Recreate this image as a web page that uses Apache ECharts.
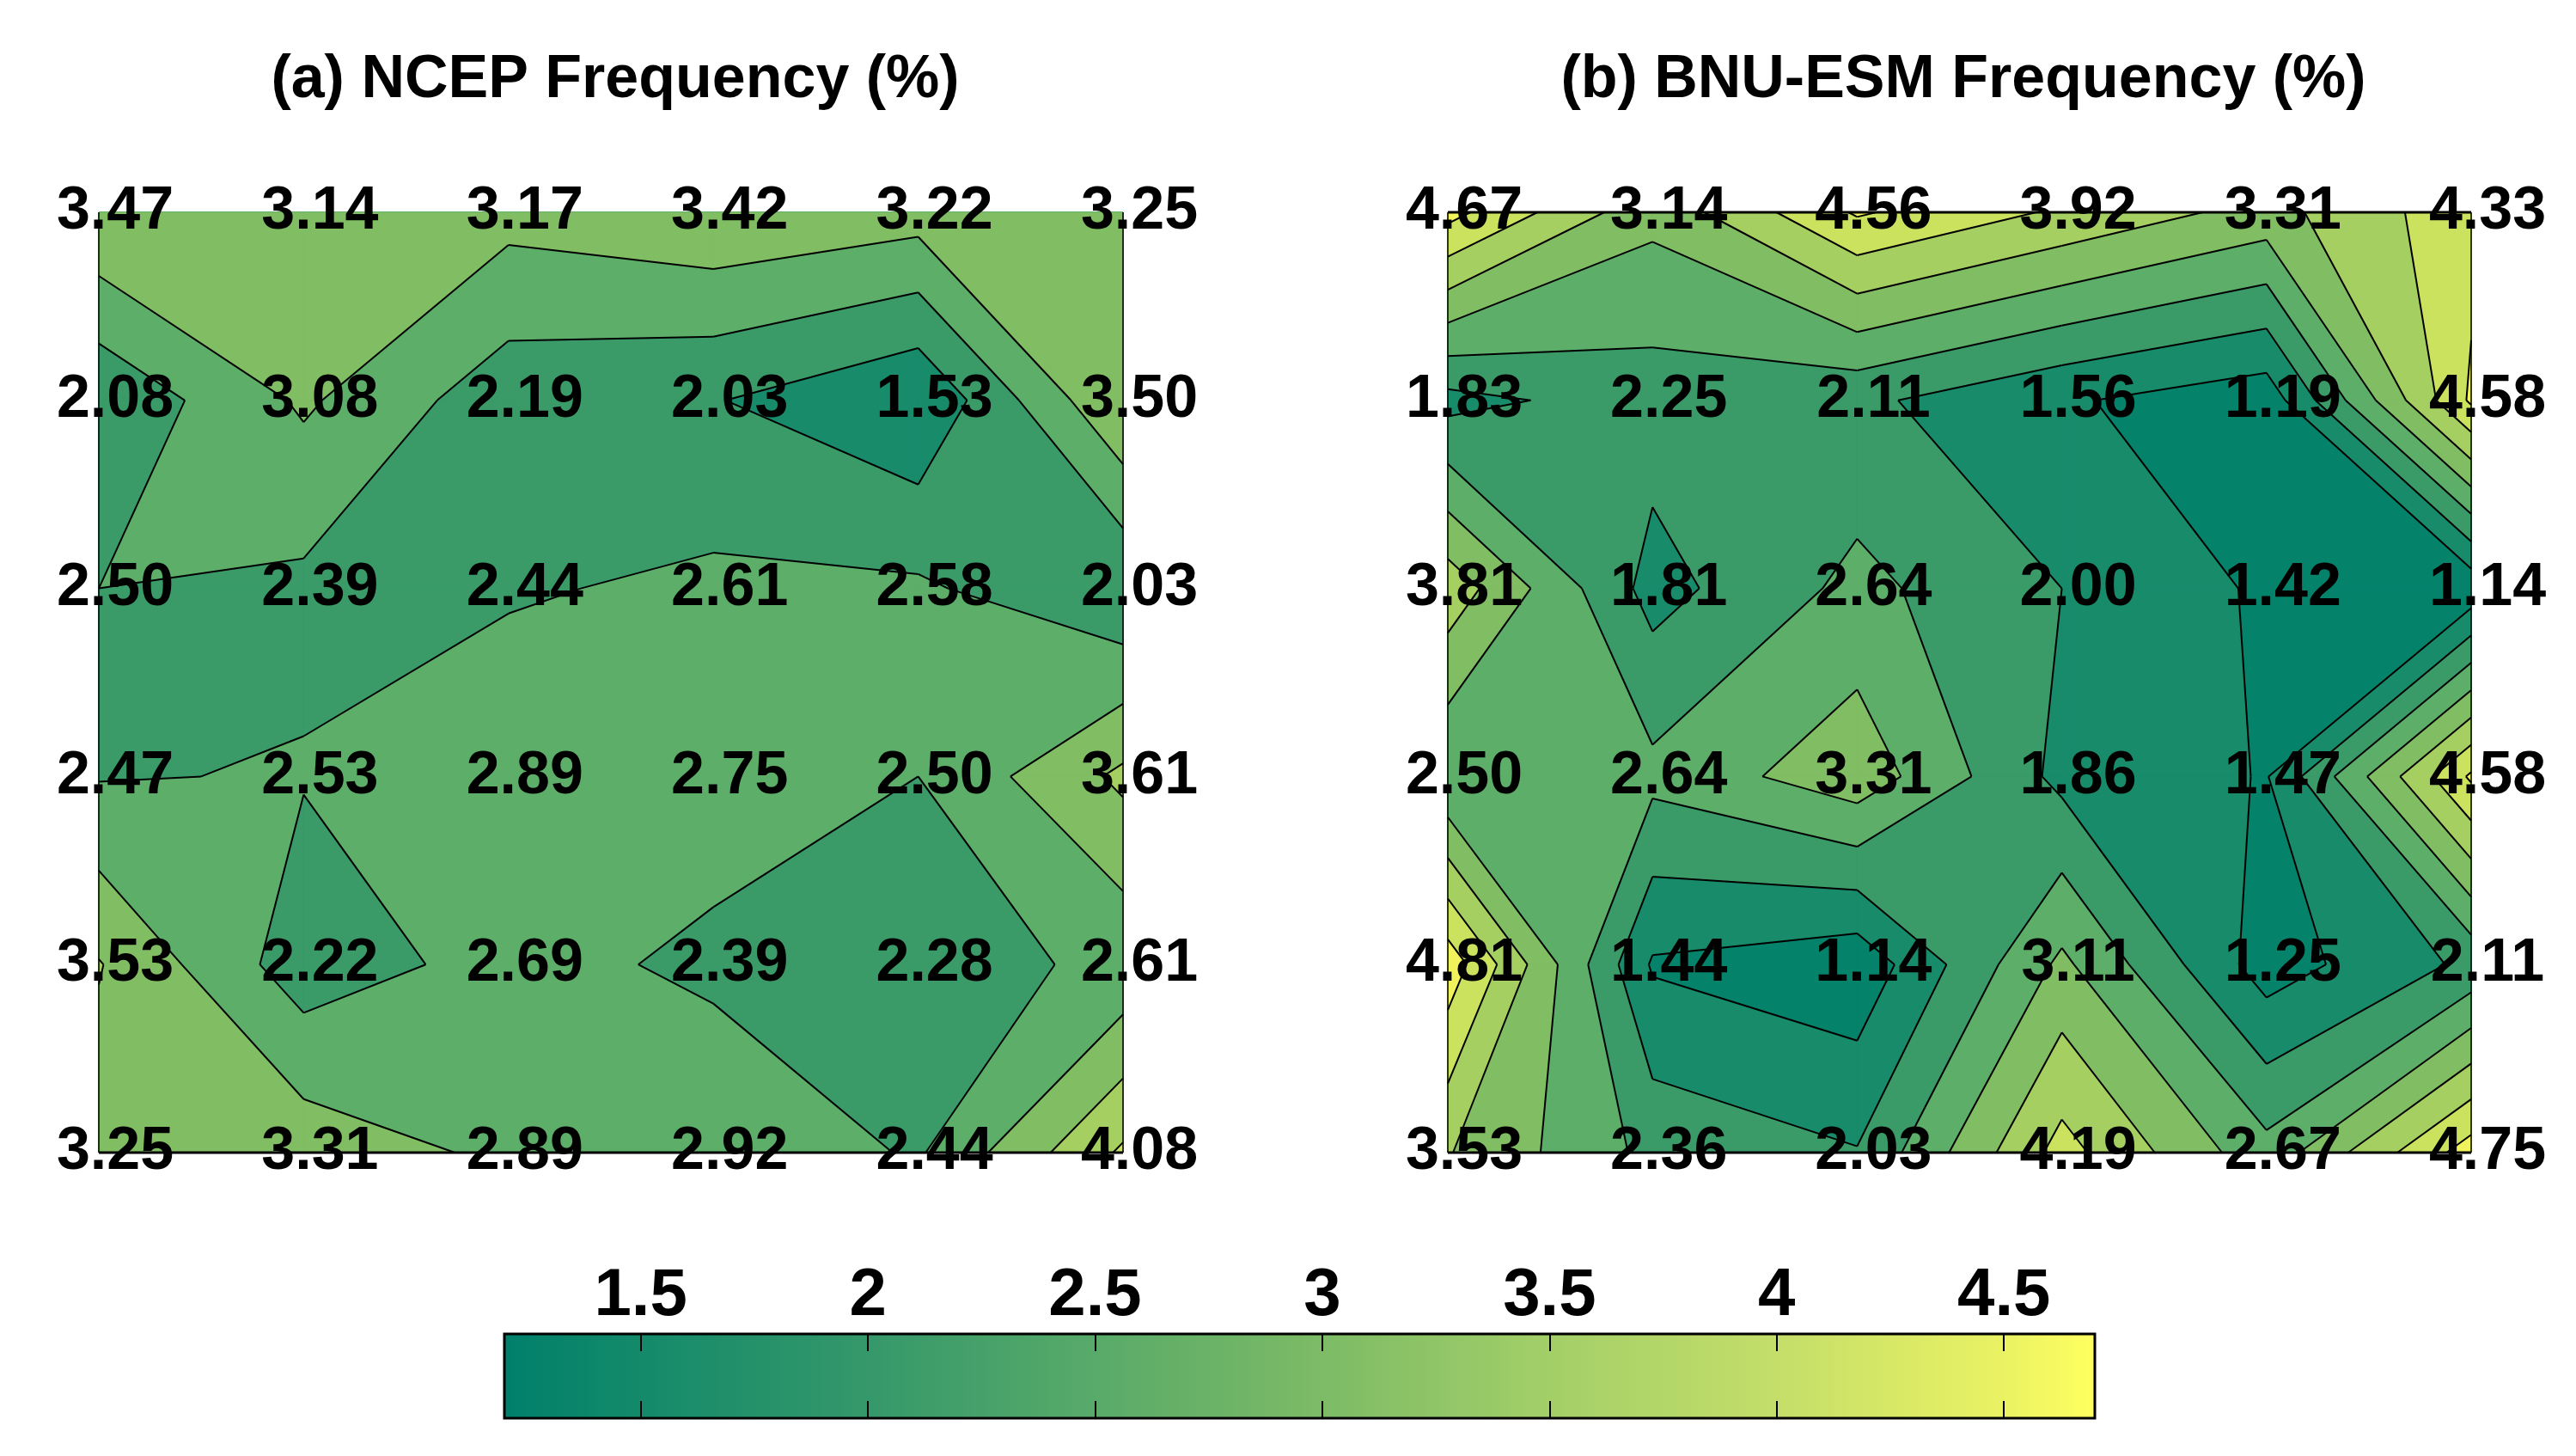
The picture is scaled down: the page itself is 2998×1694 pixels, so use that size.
<!DOCTYPE html>
<html>
<head>
<meta charset="utf-8">
<title>Frequency contours</title>
<script src="https://cdn.jsdelivr.net/npm/echarts@6/dist/echarts.min.js"></script>
<style>
  html, body { margin: 0; padding: 0; background: #fff; }
  #main { width: 2998px; height: 1694px; }
</style>
</head>
<body>
<div id="main"></div>
<script>
// grid values, top row first
const ncepRows = [
  [3.47, 3.14, 3.17, 3.42, 3.22, 3.25],
  [2.08, 3.08, 2.19, 2.03, 1.53, 3.50],
  [2.50, 2.39, 2.44, 2.61, 2.58, 2.03],
  [2.47, 2.53, 2.89, 2.75, 2.50, 3.61],
  [3.53, 2.22, 2.69, 2.39, 2.28, 2.61],
  [3.25, 3.31, 2.89, 2.92, 2.44, 4.08]
];
const bnuRows = [
  [4.67, 3.14, 4.56, 3.92, 3.31, 4.33],
  [1.83, 2.25, 2.11, 1.56, 1.19, 4.58],
  [3.81, 1.81, 2.64, 2.00, 1.42, 1.14],
  [2.50, 2.64, 3.31, 1.86, 1.47, 4.58],
  [4.81, 1.44, 1.14, 3.11, 1.25, 2.11],
  [3.53, 2.36, 2.03, 4.19, 2.67, 4.75]
];
const panelTitles = ['(a) NCEP Frequency (%)', '(b) BNU-ESM Frequency (%)'];
const levels = [1.0, 1.5, 2.0, 2.5, 3.0, 3.5, 4.0, 4.5, 5.0];
const barRange = [1.2, 4.7];
const barTicks = [1.5, 2, 2.5, 3, 3.5, 4, 4.5];

// colours
const bandColors = ['#04826a', '#178b6a', '#3a9b68', '#5dae69', '#80bd63', '#a6cf62', '#cbe25f', '#f0f35c'];
const barStopVals = [1.2, 1.5, 2.0, 2.5, 3.0, 3.5, 4.0, 4.5, 4.7];
const barStopCols = ['#00806b', '#148a6a', '#35986a', '#58aa69', '#7dbb66', '#a3cf68', '#c4de69', '#eaf263', '#ffff5f'];

const FONT = '"Liberation Sans", Arial, sans-serif';

function cellCorners(rows, c, r) {
  return [
    { x: c, y: r, v: rows[r][c] },
    { x: c + 1, y: r, v: rows[r][c + 1] },
    { x: c + 1, y: r + 1, v: rows[r + 1][c + 1] },
    { x: c, y: r + 1, v: rows[r + 1][c] }
  ];
}

// marching squares for one level: area above L (polys) and the contour chords (segs)
function isoPieces(sq, L) {
  const above = sq.map(function (p) { return p.v >= L; });
  const xs = [];
  let n = 0;
  for (let i = 0; i < 4; i++) {
    const a = sq[i], b = sq[(i + 1) % 4];
    if (above[i] !== above[(i + 1) % 4]) {
      const t = (L - a.v) / (b.v - a.v);
      xs[i] = [a.x + t * (b.x - a.x), a.y + t * (b.y - a.y)];
      n++;
    } else {
      xs[i] = null;
    }
  }
  const walk = [];
  for (let i = 0; i < 4; i++) {
    if (above[i]) walk.push([sq[i].x, sq[i].y]);
    if (xs[i]) walk.push(xs[i]);
  }
  const polys = [], segs = [];
  if (n === 4) {
    // saddle: decide by the cell mean
    const mean = (sq[0].v + sq[1].v + sq[2].v + sq[3].v) / 4;
    const centerAbove = mean >= L;
    for (let i = 0; i < 4; i++) {
      if (above[i] === centerAbove) continue;
      const prev = xs[(i + 3) % 4], next = xs[i];
      segs.push([prev, next]);
      if (above[i]) polys.push([prev, [sq[i].x, sq[i].y], next]);
    }
    if (centerAbove) polys.push(walk);
  } else {
    if (walk.length >= 3) polys.push(walk);
    if (n === 2) segs.push(xs.filter(Boolean));
  }
  return { polys: polys, segs: segs };
}

function fillRender(rows) {
  return function (params, api) {
    const c = api.value(0), r = api.value(1), k = api.value(2);
    const sq = cellCorners(rows, c, r);
    const toPx = function (p) { return api.coord(p); };
    let polys;
    if (k === 0) polys = [sq.map(function (p) { return [p.x, p.y]; })];
    else polys = isoPieces(sq, levels[k]).polys;
    return {
      type: 'group',
      children: polys.map(function (pts) {
        return {
          type: 'polygon',
          shape: { points: pts.map(toPx) },
          style: { fill: bandColors[k], stroke: bandColors[k], lineWidth: 1 }
        };
      })
    };
  };
}

function lineRender(rows) {
  return function (params, api) {
    const sq = cellCorners(rows, api.value(0), api.value(1));
    const toPx = function (p) { return api.coord(p); };
    const children = [];
    levels.slice(1, -1).forEach(function (L) {
      isoPieces(sq, L).segs.forEach(function (seg) {
        children.push({
          type: 'polyline',
          shape: { points: seg.map(toPx) },
          style: { stroke: '#000', lineWidth: 2, fill: null }
        });
      });
    });
    return { type: 'group', children: children };
  };
}

function frameRender(withTop) {
  return function (params, api) {
    const a = api.coord([0, 0]), b = api.coord([5, 5]);
    const parts = [
      { type: 'line', shape: { x1: a[0], y1: b[1], x2: b[0], y2: b[1] }, style: { stroke: '#000', lineWidth: 3 } },
      { type: 'line', shape: { x1: a[0], y1: a[1], x2: a[0], y2: b[1] }, style: { stroke: '#000', lineWidth: 1.5 } },
      { type: 'line', shape: { x1: b[0], y1: a[1], x2: b[0], y2: b[1] }, style: { stroke: '#000', lineWidth: 1.5 } }
    ];
    if (withTop) {
      parts.push({ type: 'line', shape: { x1: a[0], y1: a[1], x2: b[0], y2: a[1] }, style: { stroke: '#000', lineWidth: 3 } });
    }
    return { type: 'group', children: parts };
  };
}

const cells = [];
for (let r = 0; r < 5; r++) for (let c = 0; c < 5; c++) cells.push([c, r]);
const fillItems = [];
for (let k = 0; k < bandColors.length; k++) {
  cells.forEach(function (cell) { fillItems.push([cell[0], cell[1], k]); });
}

function labelData(rows) {
  const out = [];
  rows.forEach(function (row, r) {
    row.forEach(function (v, c) { out.push([c, r, v]); });
  });
  return out;
}

const chart = echarts.init(document.getElementById('main'));

const panels = [ncepRows, bnuRows];
const series = [];
panels.forEach(function (rows, k) {
  series.push({
    type: 'custom', xAxisIndex: k, yAxisIndex: k, data: fillItems, clip: false, z: 1,
    renderItem: fillRender(rows), silent: true
  });
  series.push({
    type: 'custom', xAxisIndex: k, yAxisIndex: k, data: cells, clip: false, z: 2,
    renderItem: lineRender(rows), silent: true
  });
  series.push({
    type: 'custom', xAxisIndex: k, yAxisIndex: k, data: [[0, 0]], clip: false, z: 3,
    renderItem: frameRender(k === 1), silent: true
  });
  series.push({
    type: 'scatter', xAxisIndex: k, yAxisIndex: k, data: labelData(rows), symbolSize: 0,
    clip: false, z: 5, silent: true, itemStyle: { opacity: 1 },
    label: {
      show: true, position: 'inside', offset: [19, 0], opacity: 1,
      formatter: function (p) { return p.value[2].toFixed(2); },
      fontSize: 70, fontWeight: 'bold', fontFamily: FONT, color: '#000'
    }
  });
});

// colour bar
series.push({
  type: 'custom', xAxisIndex: 2, yAxisIndex: 2, data: [barRange], silent: true, z: 2,
  renderItem: function (params, api) {
    const p0 = api.coord([api.value(0), 0]);
    const p1 = api.coord([api.value(1), 1]);
    const span = barRange[1] - barRange[0];
    const stops = barStopVals.map(function (v, i) {
      return { offset: (v - barRange[0]) / span, color: barStopCols[i] };
    });
    return {
      type: 'rect',
      shape: { x: p0[0], y: p1[1], width: p1[0] - p0[0], height: p0[1] - p1[1] },
      style: { fill: new echarts.graphic.LinearGradient(0, 0, 1, 0, stops) }
    };
  }
});

const panelAxis = function (k) {
  return { type: 'value', gridIndex: k, min: 0, max: 5, show: false };
};

chart.setOption({
  backgroundColor: '#fff',
  animation: false,
  title: panelTitles.map(function (t, k) {
    return {
      text: t, left: k === 0 ? 711 : 2280, top: 54, textAlign: 'center',
      textStyle: { fontSize: 70, fontWeight: 'bold', fontFamily: FONT, color: '#000' }
    };
  }),
  grid: [
    { left: 115, top: 247, width: 1192, height: 1094 },
    { left: 1685, top: 247, width: 1191, height: 1094 },
    { left: 587, top: 1552, width: 1851, height: 98, show: true, borderColor: '#000', borderWidth: 3, z: 4 }
  ],
  xAxis: [
    panelAxis(0),
    panelAxis(1),
    {
      type: 'value', gridIndex: 2, position: 'top', min: barRange[0], max: barRange[1], z: 10,
      axisLine: { show: false, onZero: false }, splitLine: { show: false },
      axisTick: { show: true, inside: true, length: 20, customValues: barTicks, lineStyle: { color: '#000', width: 2 } },
      axisLabel: { show: true, customValues: barTicks, margin: 5, fontSize: 78, fontWeight: 'bold', fontFamily: FONT, color: '#000' }
    },
    {
      type: 'value', gridIndex: 2, position: 'bottom', min: barRange[0], max: barRange[1], z: 10,
      axisLine: { show: false, onZero: false }, splitLine: { show: false },
      axisTick: { show: true, inside: true, length: 20, customValues: barTicks, lineStyle: { color: '#000', width: 2 } },
      axisLabel: { show: false }
    }
  ],
  yAxis: [
    Object.assign(panelAxis(0), { inverse: true }),
    Object.assign(panelAxis(1), { inverse: true }),
    { type: 'value', gridIndex: 2, min: 0, max: 1, show: false }
  ],
  series: series
});
</script>
</body>
</html>
